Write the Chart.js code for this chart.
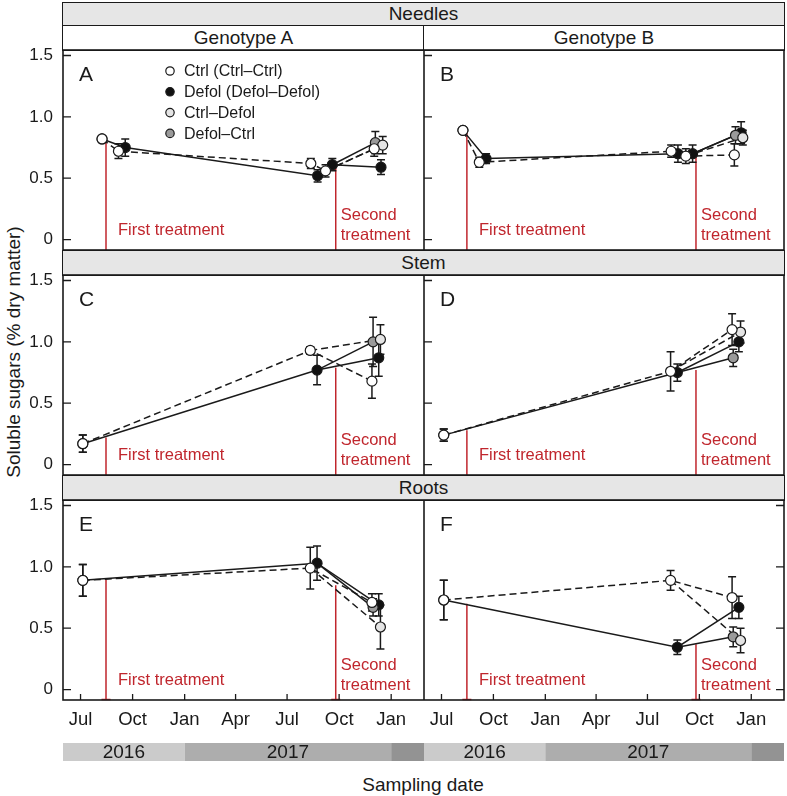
<!DOCTYPE html>
<html>
<head>
<meta charset="utf-8">
<title>Soluble sugars</title>
<script src="https://cdn.jsdelivr.net/npm/chart.js@4.4.1/dist/chart.umd.min.js"></script>
<style>
  body { margin: 0; background: #fff; }
  #fig { position: relative; width: 787px; height: 796px; overflow: hidden;
         font-family: "Liberation Sans", Arial, sans-serif; color: #1a1a1a; }
  .strip { position: absolute; box-sizing: border-box; border: 1.5px solid #1a1a1a;
           text-align: center; font-size: 19px; background: #fff; }
  .grey { background: #e6e6e6; }
  canvas { position: absolute; }
  .title { position: absolute; text-align: center; font-size: 19px; }
</style>
</head>
<body>
<div id="fig">
  <div class="strip grey" style="left:62px;top:2px;width:723px;height:24px;line-height:21px;">Needles</div>
  <div class="strip" style="left:62px;top:25px;width:363px;height:26px;line-height:23px;">Genotype A</div>
  <div class="strip" style="left:423px;top:25px;width:362px;height:26px;line-height:23px;">Genotype B</div>
  <div class="strip grey" style="left:62px;top:250px;width:723px;height:26px;line-height:23px;">Stem</div>
  <div class="strip grey" style="left:62px;top:475px;width:723px;height:26px;line-height:23px;">Roots</div>
  <div class="title" style="left:-136px;top:340px;width:300px;height:24px;line-height:24px;transform:rotate(-90deg);">Soluble sugars (% dry matter)</div>
  <div class="title" style="left:273px;top:774px;width:300px;">Sampling date</div>
</div>
<script>
// ---- axis stuff ----
var tickDates = ["2016-07-01", "2016-10-01", "2017-01-01", "2017-04-01", "2017-07-01", "2017-10-01", "2018-01-01"];
var tickLabels = ["Jul", "Oct", "Jan", "Apr", "Jul", "Oct", "Jan"];
var yTicks = [0, 0.5, 1.0, 1.5];
var yearStarts = ["2016-01-01", "2017-01-01", "2018-01-01"];
var yearLabels = ["2016", "2017", ""];

var groupNames = ["Ctrl (Ctrl\u2013Ctrl)", "Defol (Defol\u2013Defol)", "Ctrl\u2013Defol", "Defol\u2013Ctrl"];
var panelLetters = ["A", "B", "C", "D", "E", "F"];

// ---- sampling / treatment dates ----
var needleDates = ["2016-08-08", "2016-09-13", "2017-08-19", "2017-09-14", "2017-12-09"];
var stemRootDates = ["2016-07-05", "2017-08-18", "2017-12-05"];
var treatmentDates = ["2016-08-15", "2017-09-25"];

// ---- values (first value = common baseline) ----
var ctrlA = [0.82, 0.72, 0.62, 0.56, 0.74];
var ctrlAErr = [0.02, 0.06, 0.04, 0.05, 0.06];
var defolA = [0.82, 0.75, 0.52, 0.61, 0.59];
var defolAErr = [0.02, 0.07, 0.05, 0.05, 0.06];

var ctrlB = [0.89, 0.63, 0.72, 0.68, 0.69];
var ctrlBErr = [0.02, 0.04, 0.05, 0.06, 0.09];
var defolB = [0.89, 0.66, 0.70, 0.70, 0.87];
var defolBErr = [0.02, 0.04, 0.07, 0.07, 0.09];

var ctrlC = [0.17, 0.93, 0.68];
var ctrlCErr = [0.07, 0.03, 0.14];
var defolC = [0.17, 0.77, 0.87];
var defolCErr = [0.07, 0.12, 0.15];

var ctrlD = [0.24, 0.76, 1.10];
var ctrlDErr = [0.05, 0.16, 0.13];
var defolD = [0.24, 0.75, 1.00];
var defolDErr = [0.05, 0.07, 0.08];

var ctrlE = [0.89, 0.99, 0.71];
var ctrlEErr = [0.13, 0.17, 0.07];
var defolE = [0.89, 1.03, 0.69];
var defolEErr = [0.13, 0.14, 0.09];

var ctrlF = [0.73, 0.89, 0.75];
var ctrlFErr = [0.16, 0.08, 0.17];
var defolF = [0.73, 0.345, 0.67];
var defolFErr = [0.16, 0.06, 0.09];

// swapped groups, last sampling only (panels A..F)
var ctrlDefolFinal = [0.77, 0.83, 1.02, 1.08, 0.51, 0.40];
var ctrlDefolErr = [0.07, 0.06, 0.12, 0.09, 0.18, 0.10];
var defolCtrlFinal = [0.79, 0.85, 1.00, 0.87, 0.67, 0.43];
var defolCtrlErr = [0.09, 0.07, 0.20, 0.07, 0.07, 0.08];

// height where the red treatment lines stop (panels A..F)
var firstTreatTop = [0.80, 0.88, 0.22, 0.28, 0.90, 0.70];
var secondTreatTop = [0.61, 0.69, 0.79, 0.77, 0.85, 0.37];

// ---- style ----
var FONT = '"Liberation Sans", Arial, sans-serif';
var INK = "#1a1a1a";
var RED = "#c0262d";
var FILLS = ["#ffffff", "#111111", "#e4e4e4", "#9a9a9a"];
var YEAR_SHADES = ["#cbcbcb", "#adadad", "#939393"];
var DODGE = [-7, 5, 8, -5]; // days, so groups don't sit on top of each other

var BASE = Date.UTC(2016, 6, 1);
function dayNum(s) {
  var p = s.split("-").map(Number);
  return (Date.UTC(p[0], p[1] - 1, p[2]) - BASE) / 86400000;
}
var xMin = dayNum("2016-05-31"), xMax = dayNum("2018-02-28");

var decor = {
  id: "decor",
  beforeDatasetsDraw: function(chart, args, o) {
    var ctx = chart.ctx, a = chart.chartArea, x = chart.scales.x, y = chart.scales.y;
    ctx.save();
    ctx.strokeStyle = RED;
    ctx.lineWidth = 1.5;
    var tops = [o.firstTop, o.secondTop];
    treatmentDates.forEach(function(d, i) {
      var px = x.getPixelForValue(dayNum(d));
      ctx.beginPath();
      ctx.moveTo(px, y.getPixelForValue(tops[i]));
      ctx.lineTo(px, a.bottom);
      if (o.bottom) { ctx.moveTo(px - 4.5, a.bottom - 0.5); ctx.lineTo(px + 4.5, a.bottom - 0.5); }
      ctx.stroke();
    });
    // error bars under the points
    ctx.strokeStyle = INK;
    ctx.lineWidth = 1.5;
    chart.data.datasets.forEach(function(ds) {
      if (!ds.errors) return;
      ds.data.forEach(function(p, i) {
        var e = ds.errors[i];
        var px = x.getPixelForValue(p.x);
        var t = y.getPixelForValue(p.y + e), b = y.getPixelForValue(p.y - e);
        ctx.beginPath();
        ctx.moveTo(px, t); ctx.lineTo(px, b);
        ctx.moveTo(px - 4, t); ctx.lineTo(px + 4, t);
        ctx.moveTo(px - 4, b); ctx.lineTo(px + 4, b);
        ctx.stroke();
      });
    });
    ctx.restore();
  },
  afterDraw: function(chart, args, o) {
    var ctx = chart.ctx, a = chart.chartArea, x = chart.scales.x, y = chart.scales.y;
    ctx.save();
    // inward ticks
    ctx.strokeStyle = INK;
    ctx.lineWidth = 1.3;
    ctx.beginPath();
    yTicks.forEach(function(v) {
      var py = y.getPixelForValue(v);
      if (o.tickSide === "right") { ctx.moveTo(a.right, py); ctx.lineTo(a.right - 8, py); }
      else { ctx.moveTo(a.left, py); ctx.lineTo(a.left + 8, py); }
    });
    if (o.bottom) {
      tickDates.forEach(function(d) {
        var px = x.getPixelForValue(dayNum(d));
        ctx.moveTo(px, a.bottom); ctx.lineTo(px, a.bottom - 6);
      });
    }
    ctx.stroke();
    ctx.lineWidth = 1.6;
    ctx.strokeRect(a.left, a.top, a.right - a.left, a.bottom - a.top);

    // panel letter
    ctx.fillStyle = INK;
    ctx.textBaseline = "alphabetic";
    ctx.textAlign = "left";
    ctx.font = "21px " + FONT;
    ctx.fillText(o.letter, a.left + 16, a.top + 31);

    // treatment labels
    var t1 = x.getPixelForValue(dayNum(treatmentDates[0]));
    var t2 = x.getPixelForValue(dayNum(treatmentDates[1]));
    ctx.fillStyle = RED;
    ctx.font = "16.5px " + FONT;
    ctx.fillText("First treatment", t1 + 12, a.bottom - 15);
    ctx.fillText("Second", t2 + 5, a.bottom - 30);
    ctx.fillText("treatment", t2 + 5, a.bottom - 10);

    if (o.legend) {
      ctx.font = "16px " + FONT;
      ctx.textBaseline = "middle";
      groupNames.forEach(function(name, i) {
        var cy = a.top + 21 + i * 20.8;
        ctx.beginPath();
        ctx.arc(a.left + 107, cy, 4.2, 0, Math.PI * 2);
        ctx.fillStyle = FILLS[i];
        ctx.fill();
        ctx.lineWidth = 1.2;
        ctx.strokeStyle = INK;
        ctx.stroke();
        ctx.fillStyle = INK;
        ctx.fillText(name, a.left + 121, cy + 1);
      });
    }

    if (o.bottom) {
      var top = a.bottom + 43, h = 18;
      yearStarts.forEach(function(d, i) {
        var x0 = Math.max(a.left, x.getPixelForValue(dayNum(d)));
        var x1 = i + 1 < yearStarts.length ? Math.min(a.right, x.getPixelForValue(dayNum(yearStarts[i + 1]))) : a.right;
        if (x1 <= x0) return;
        ctx.fillStyle = YEAR_SHADES[i];
        ctx.fillRect(x0, top, x1 - x0, h);
        if (yearLabels[i]) {
          ctx.fillStyle = INK;
          ctx.font = "19px " + FONT;
          ctx.textAlign = "center";
          ctx.textBaseline = "middle";
          ctx.fillText(yearLabels[i], (x0 + x1) / 2, top + h / 2 + 1);
        }
      });
    }
    ctx.restore();
  }
};

var panels = [
  { dates: needleDates, ctrl: ctrlA, ctrlErr: ctrlAErr, defol: defolA, defolErr: defolAErr },
  { dates: needleDates, ctrl: ctrlB, ctrlErr: ctrlBErr, defol: defolB, defolErr: defolBErr },
  { dates: stemRootDates, ctrl: ctrlC, ctrlErr: ctrlCErr, defol: defolC, defolErr: defolCErr },
  { dates: stemRootDates, ctrl: ctrlD, ctrlErr: ctrlDErr, defol: defolD, defolErr: defolDErr },
  { dates: stemRootDates, ctrl: ctrlE, ctrlErr: ctrlEErr, defol: defolE, defolErr: defolEErr },
  { dates: stemRootDates, ctrl: ctrlF, ctrlErr: ctrlFErr, defol: defolF, defolErr: defolFErr }
];

function pt(dates, i, g, v) {
  return { x: dayNum(dates[i]) + (i > 0 ? DODGE[g] : 0), y: v };
}
function lineSet(data, dashed) {
  return { data: data, showLine: true, borderColor: INK, borderWidth: 1.5,
           borderDash: dashed ? [7, 4] : [], pointRadius: 0, tension: 0, fill: false, order: 10 };
}
function pointSet(data, errs, fill, order) {
  return { data: data, errors: errs, showLine: false, pointRadius: 5, pointBackgroundColor: fill,
           pointBorderColor: INK, pointBorderWidth: 1.2, order: order };
}
// fixed axis sizes so every plot box lands on the same grid
function fitX(s) {
  s.height = s.options.display ? 70 : 0;
  s.paddingLeft = s.paddingRight = s.paddingTop = s.paddingBottom = 0;
}
function fitY(s) {
  s.width = s.options.display ? 63 : 0;
  s.paddingLeft = s.paddingRight = s.paddingTop = s.paddingBottom = 0;
}

var fig = document.getElementById("fig");
var plotTops = [50, 275, 500];

panels.forEach(function(p, k) {
  var col = k % 2, row = Math.floor(k / 2);
  var bottom = row === 2;
  var canvas = document.createElement("canvas");
  var w = col ? 363 : 424, h = 12 + 200 + (bottom ? 70 : 12);
  canvas.width = w; canvas.height = h;
  canvas.style.left = (col ? 424 : 0) + "px";
  canvas.style.top = (plotTops[row] - 12) + "px";
  canvas.style.width = w + "px"; canvas.style.height = h + "px";
  fig.appendChild(canvas);

  var last = p.dates.length - 1, pre = last - 1;
  var ctrlPts = p.ctrl.map(function(v, i) { return pt(p.dates, i, 0, v); });
  var defolPts = p.defol.map(function(v, i) { return pt(p.dates, i, 1, v); });
  var cdPt = pt(p.dates, last, 2, ctrlDefolFinal[k]);
  var dcPt = pt(p.dates, last, 3, defolCtrlFinal[k]);

  new Chart(canvas, {
    type: "line",
    data: {
      datasets: [
        pointSet(ctrlPts, p.ctrlErr, FILLS[0], 0),
        pointSet([cdPt], [ctrlDefolErr[k]], FILLS[2], 1),
        pointSet([dcPt], [defolCtrlErr[k]], FILLS[3], 2),
        pointSet(defolPts, p.defolErr, FILLS[1], 3),
        lineSet(ctrlPts, true),
        lineSet([ctrlPts[pre], cdPt], true),
        lineSet(defolPts, false),
        lineSet([defolPts[pre], dcPt], false)
      ]
    },
    options: {
      responsive: false,
      animation: false,
      events: [],
      layout: { autoPadding: false,
                padding: { top: 12, bottom: bottom ? 0 : 12, left: 0, right: col ? 3 : 0 } },
      scales: {
        x: {
          type: "linear", min: xMin, max: xMax, display: bottom,
          grid: { display: false, drawTicks: false }, border: { display: false },
          afterBuildTicks: function(s) { s.ticks = tickDates.map(function(d) { return { value: dayNum(d) }; }); },
          afterFit: fitX,
          ticks: { autoSkip: false, maxRotation: 0, padding: 9, color: INK,
                   font: { family: FONT, size: 18.5 },
                   callback: function(v, i) { return tickLabels[i]; } }
        },
        y: {
          type: "linear", min: -0.085, max: 1.545, display: !col, position: "left",
          grid: { display: false, drawTicks: false }, border: { display: false },
          afterBuildTicks: function(s) { s.ticks = yTicks.map(function(v) { return { value: v }; }); },
          afterFit: fitY,
          ticks: { padding: 10, color: INK, font: { family: FONT, size: 17 },
                   callback: function(v) { return v === 0 ? "0" : v.toFixed(1); } }
        }
      },
      plugins: {
        legend: { display: false },
        tooltip: { enabled: false },
        decor: {
          letter: panelLetters[k], bottom: bottom, legend: k === 0,
          tickSide: k === 5 ? "right" : "left",
          firstTop: firstTreatTop[k], secondTop: secondTreatTop[k]
        }
      }
    },
    plugins: [decor]
  });
});
</script>
</body>
</html>
